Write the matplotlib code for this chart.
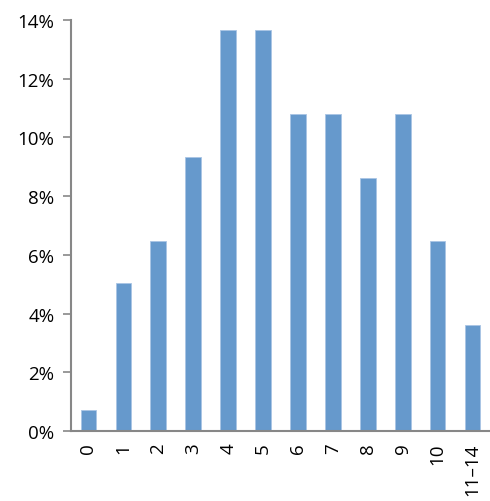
import matplotlib
matplotlib.use('Agg')
import matplotlib.pyplot as plt
from matplotlib.ticker import PercentFormatter

# share of cases per category (%)
categories = ['0', '1', '2', '3', '4', '5', '6', '7', '8', '9', '10', '11\u201314']
values = [0.72, 5.04, 6.47, 9.35, 13.67, 13.67, 10.79, 10.79, 8.63, 10.79, 6.47, 3.60]
yticks = [0, 2, 4, 6, 8, 10, 12, 14]

plt.rcParams['font.family'] = ['Open Sans', 'DejaVu Sans']

fig = plt.figure(figsize=(4.9, 5.02), dpi=100)
ax = fig.add_axes([0.1449, 0.1394, 0.8551, 0.8188])

x = range(len(categories))
ax.bar(x, values, width=0.45, color='#6699cc', edgecolor='#a9c4e4', linewidth=0.6)

ax.set_xlim(-0.5, len(categories) - 0.5)
ax.set_ylim(0, 14)
ax.set_yticks(yticks)
ax.yaxis.set_major_formatter(PercentFormatter(decimals=0))
ax.set_xticks(list(x))
ax.set_xticklabels(categories, rotation=90, va='top', ha='center')

for s in ['top', 'right']:
    ax.spines[s].set_visible(False)
for s in ['left', 'bottom']:
    ax.spines[s].set_color('#878787')
    ax.spines[s].set_linewidth(1.5)

ax.tick_params(axis='y', direction='out', length=6, width=1.2, color='#878787',
               labelsize=13.5, pad=6)
ax.tick_params(axis='x', length=0, labelsize=13.5, pad=8)

fig.savefig('out.png', dpi=100)
